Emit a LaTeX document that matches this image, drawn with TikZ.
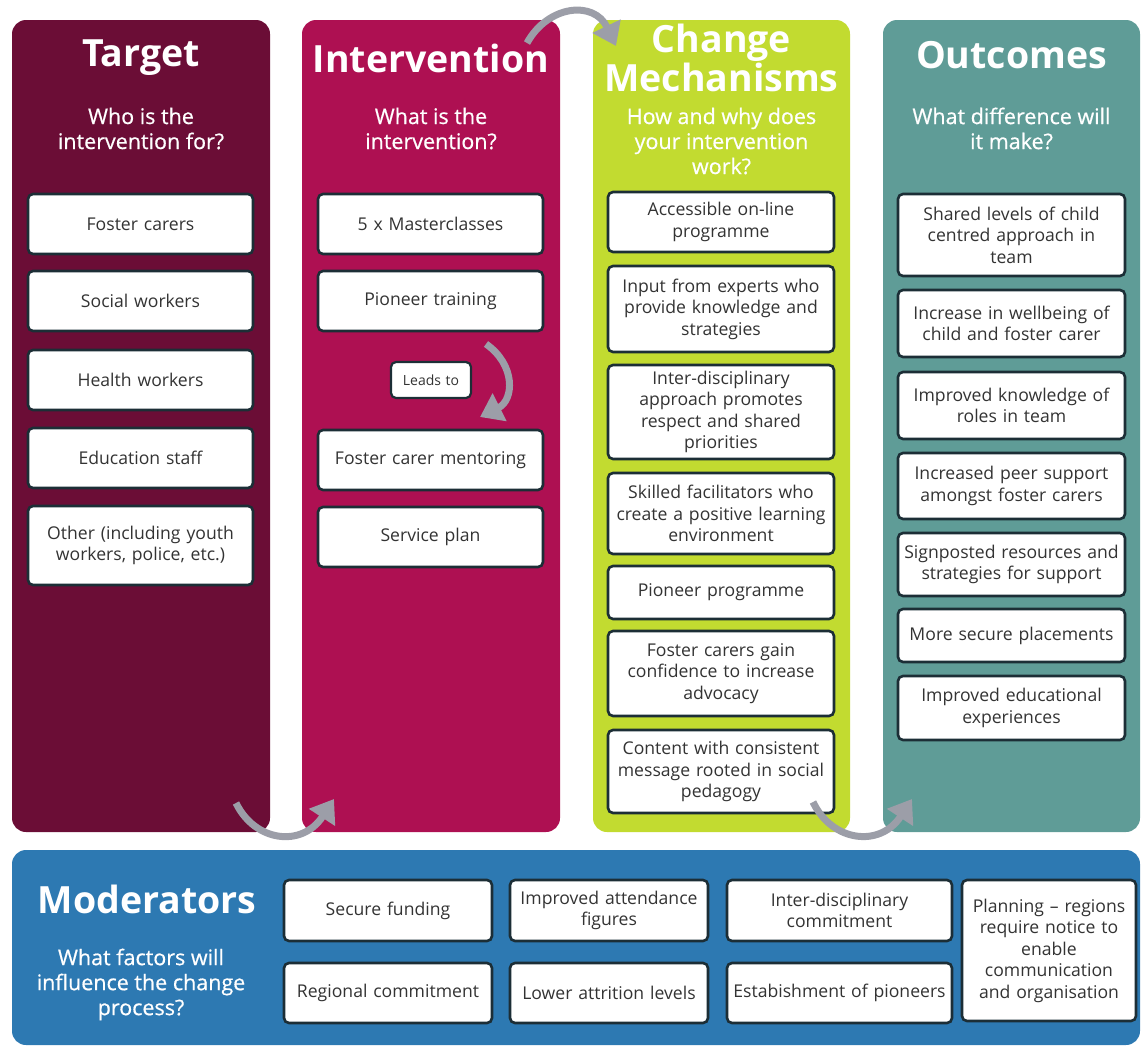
\documentclass[tikz,border=0pt]{standalone}
\usepackage{fontspec}
\setmainfont{Open Sans}
\newfontfamily\subfont[FakeBold=0.6]{Open Sans}
\usetikzlibrary{arrows.meta}
\definecolor{cTarget}{HTML}{6B0D36}
\definecolor{cInter}{HTML}{AE1052}
\definecolor{cChange}{HTML}{C2DB30}
\definecolor{cOut}{HTML}{5F9C97}
\definecolor{cMod}{HTML}{2D79B2}
\definecolor{cBorder}{HTML}{1C2E36}
\definecolor{cText}{HTML}{333333}
\definecolor{cArrow}{HTML}{9C9EA8}
\tikzset{
  panel/.style={rounded corners=14pt, inner sep=0pt, draw=none},
  box/.style={draw=cBorder, line width=2.6pt, fill=white, rounded corners=5pt, inner sep=2pt,
    align=center, text=cText, font=\fontsize{17.6}{21.5}\selectfont},
  title/.style={text=white, align=center, font=\fontsize{37.5}{36}\selectfont\bfseries, inner sep=0pt},
  subtitle/.style={text=white, align=center, font=\subfont\fontsize{21.5}{25}\selectfont, inner sep=0pt},
  garrow/.style={draw=cArrow, line width=7pt, -{Triangle[length=22pt,width=30pt]}},
}
\begin{document}
\begin{tikzpicture}[x=1pt,y=-1pt]
\useasboundingbox (0,0) rectangle (1146,1052);
% panels
\node[panel, fill=cTarget, minimum width=258pt, minimum height=812pt] (target) at (141,426) {};
\node[panel, fill=cInter, minimum width=258pt, minimum height=812pt] (inter) at (431,426) {};
\node[panel, fill=cChange, minimum width=257pt, minimum height=812pt] (change) at (721.5,426) {};
\node[panel, fill=cOut, minimum width=257pt, minimum height=812pt] (outc) at (1011.5,426) {};
\node[panel, fill=cMod, minimum width=1128pt, minimum height=195pt] (mod) at (576,947.5) {};
% titles
\node[title] (tT) at (141,58) {Target};
\node[subtitle] (sT) at (141,128.5) {Who is the\\intervention for?};
\node[title] (tI) at (431,58) {Intervention};
\node[subtitle] (sI) at (431,128.5) {What is the\\intervention?};
\node[title] (tC) at (721.5,58) {Change\\Mechanisms};
\node[subtitle] (sC) at (721.5,141) {How and why does\\your intervention\\work?};
\node[title] (tO) at (1011.5,55) {Outcomes};
\node[subtitle] (sO) at (1011.5,128.5) {What difference will\\it make?};
\node[title] (tM) at (147,899) {Moderators};
\node[subtitle] (sM) at (141,984.5) {What factors will\\influence the change\\process?};
% target boxes
\node[box, minimum width=225pt, minimum height=60pt, text width=215pt] (t1) at (140.5,224) {Foster carers};
\node[box, minimum width=225pt, minimum height=60pt, text width=215pt] (t2) at (140.5,301) {Social workers};
\node[box, minimum width=225pt, minimum height=60pt, text width=215pt] (t3) at (140.5,380) {Health workers};
\node[box, minimum width=225pt, minimum height=60pt, text width=215pt] (t4) at (140.5,458) {Education staff};
\node[box, minimum width=225pt, minimum height=79pt, text width=215pt] (t5) at (140.5,545.5) {Other (including youth\\workers, police, etc.)};
% intervention boxes
\node[box, minimum width=225pt, minimum height=60pt, text width=215pt] (i1) at (430.5,224) {5 x Masterclasses};
\node[box, minimum width=225pt, minimum height=60pt, text width=215pt] (i2) at (430.5,301) {Pioneer training};
\node[box, minimum width=80pt, minimum height=36pt, text width=76pt, line width=2.2pt, font=\fontsize{14}{17}\selectfont] (lead) at (431,380) {Leads to};
\node[box, minimum width=225pt, minimum height=60pt, text width=215pt] (i3) at (430.5,460) {Foster carer mentoring};
\node[box, minimum width=225pt, minimum height=60pt, text width=215pt] (i4) at (430.5,537) {Service plan};
% change boxes
\node[box, minimum width=226pt, minimum height=60pt, text width=218pt] (c1) at (721,222) {Accessible on-line\\programme};
\node[box, minimum width=226pt, minimum height=86pt, text width=218pt] (c2) at (721,309) {Input from experts who\\provide knowledge and\\strategies};
\node[box, minimum width=226pt, minimum height=94pt, text width=218pt] (c3) at (721,412) {Inter-disciplinary\\approach promotes\\respect and shared\\priorities};
\node[box, minimum width=226pt, minimum height=81pt, text width=218pt] (c4) at (721,513.5) {Skilled facilitators who\\create a positive learning\\environment};
\node[box, minimum width=226pt, minimum height=53pt, text width=218pt] (c5) at (721,592.5) {Pioneer programme};
\node[box, minimum width=226pt, minimum height=85pt, text width=218pt] (c6) at (721,673.5) {Foster carers gain\\confidence to increase\\advocacy};
\node[box, minimum width=226pt, minimum height=83pt, text width=218pt] (c7) at (721,771.5) {Content with consistent\\message rooted in social\\pedagogy};
% outcome boxes
\node[box, minimum width=227pt, minimum height=82pt, text width=223pt] (o1) at (1011.5,235) {Shared levels of child\\centred approach in\\team};
\node[box, minimum width=227pt, minimum height=67pt, text width=223pt] (o2) at (1011.5,323.5) {Increase in wellbeing of\\child and foster carer};
\node[box, minimum width=227pt, minimum height=67pt, text width=223pt] (o3) at (1011.5,405.5) {Improved knowledge of\\roles in team};
\node[box, minimum width=227pt, minimum height=66pt, text width=223pt] (o4) at (1011.5,486) {Increased peer support\\amongst foster carers};
\node[box, minimum width=227pt, minimum height=63pt, text width=223pt] (o5) at (1011.5,564.5) {Signposted resources and\\strategies for support};
\node[box, minimum width=227pt, minimum height=53pt, text width=223pt] (o6) at (1011.5,635.5) {More secure placements};
\node[box, minimum width=227pt, minimum height=64pt, text width=223pt] (o7) at (1011.5,708) {Improved educational\\experiences};
% moderator boxes
\node[box, minimum width=208pt, minimum height=61pt, text width=204pt] (m1) at (388,910.5) {Secure funding};
\node[box, minimum width=208pt, minimum height=60pt, text width=204pt] (m2) at (388,993) {Regional commitment};
\node[box, minimum width=198pt, minimum height=61pt, text width=194pt] (m3) at (609,910.5) {Improved attendance\\figures};
\node[box, minimum width=198pt, minimum height=60pt, text width=194pt] (m4) at (609,993) {Lower attrition levels};
\node[box, minimum width=225pt, minimum height=61pt, text width=221pt] (m5) at (839.5,910.5) {Inter-disciplinary\\commitment};
\node[box, minimum width=225pt, minimum height=60pt, text width=221pt] (m6) at (839.5,993) {Estabishment of pioneers};
\node[box, minimum width=172pt, minimum height=141pt, text width=170pt] (m7) at (1049,950.5) {Planning -- regions\\require notice to\\enable\\communication\\and organisation};
% arrows
\coordinate (a1s) at (527,43);
\coordinate (a1e) at (616,46);
\draw[garrow] (a1s) .. controls (548,5) and (594,0) .. (a1e);
\coordinate (a2s) at (236,803);
\coordinate (a2e) at (334,799);
\draw[garrow] (a2s) .. controls (255,842) and (302,848) .. (a2e);
\coordinate (a3s) at (813,802);
\coordinate (a3e) at (912,799);
\draw[garrow] (a3s) .. controls (832,842) and (880,848) .. (a3e);
\coordinate (a4s) at (486,344);
\coordinate (a4e) at (480,417);
\draw[garrow] (a4s) .. controls (516,365) and (514,400) .. (a4e);
\end{tikzpicture}
\end{document}
